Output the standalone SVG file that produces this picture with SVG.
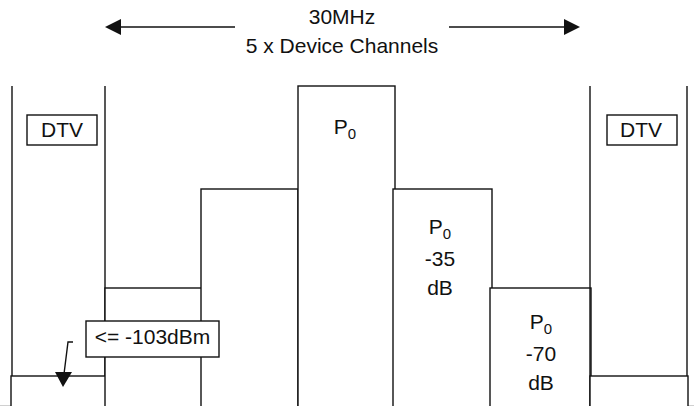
<svg xmlns="http://www.w3.org/2000/svg" width="694" height="406" viewBox="0 0 694 406">
<style>
  .ln{fill:none;stroke:#111;stroke-width:1.4}
  .bx{fill:#fff;stroke:#111;stroke-width:1.4}
  .t{font-family:"Liberation Sans",Arial,sans-serif;font-size:21px;fill:#111}
  .m{text-anchor:middle}
  .sub{font-size:15px}
</style>
<rect x="0" y="0" width="694" height="406" fill="#fff"/>
<line x1="0" y1="405.5" x2="694" y2="405.5" stroke="#d0d0d0" stroke-width="1"/>

<g id="header">
  <text class="t m" x="342" y="24">30MHz</text>
  <text class="t m" x="342" y="53">5 x Device Channels</text>
</g>

<g id="dtv-left">
  <line class="ln" x1="12" y1="86" x2="12" y2="406"/>
  <line class="ln" x1="105" y1="86" x2="105" y2="406"/>
  <rect class="bx" x="27" y="115" width="70" height="30"/>
  <text class="t m" x="62" y="137">DTV</text>
  <rect class="bx" x="11" y="376" width="96" height="40"/>
</g>

<g id="ch1">
  <rect class="bx" x="105" y="288" width="97" height="130"/>
</g>
<g id="ch2">
  <rect class="bx" x="201" y="189" width="97" height="230"/>
</g>
<g id="ch3">
  <rect class="bx" x="298" y="86" width="97" height="330"/>
  <text class="t m" x="345" y="134">P<tspan class="sub" dy="5">0</tspan></text>
</g>
<g id="ch4">
  <rect class="bx" x="393" y="189" width="99" height="230"/>
  <text class="t m" x="440" y="234">P<tspan class="sub" dy="5">0</tspan></text>
  <text class="t m" x="440" y="266">-35</text>
  <text class="t m" x="440" y="295">dB</text>
</g>
<g id="ch5">
  <rect class="bx" x="490" y="288" width="101" height="130"/>
  <text class="t m" x="541" y="329">P<tspan class="sub" dy="5">0</tspan></text>
  <text class="t m" x="541" y="361">-70</text>
  <text class="t m" x="541" y="390">dB</text>
</g>

<g id="dtv-right">
  <line class="ln" x1="590" y1="86" x2="590" y2="406"/>
  <line class="ln" x1="687" y1="86" x2="687" y2="406"/>
  <rect class="bx" x="607" y="115" width="70" height="30"/>
  <text class="t m" x="641" y="137">DTV</text>
  <rect class="bx" x="590" y="376" width="98" height="40"/>
</g>

<g id="limit-label">
  <rect class="bx" x="86" y="321" width="133" height="36"/>
  <text class="t m" x="152.5" y="344">&lt;= -103dBm</text>
</g>

<g id="connectors">
  <line class="ln" x1="235" y1="27" x2="118" y2="27"/>
  <polygon points="105,27 121,19 121,35" fill="#111"/>
  <line class="ln" x1="449" y1="27" x2="566" y2="27"/>
  <polygon points="580,27 564,19 564,35" fill="#111"/>
  <polyline class="ln" points="73,342 68,342 64,374"/>
  <polygon points="55,372 72,372 63,387" fill="#111"/>
</g>
</svg>
